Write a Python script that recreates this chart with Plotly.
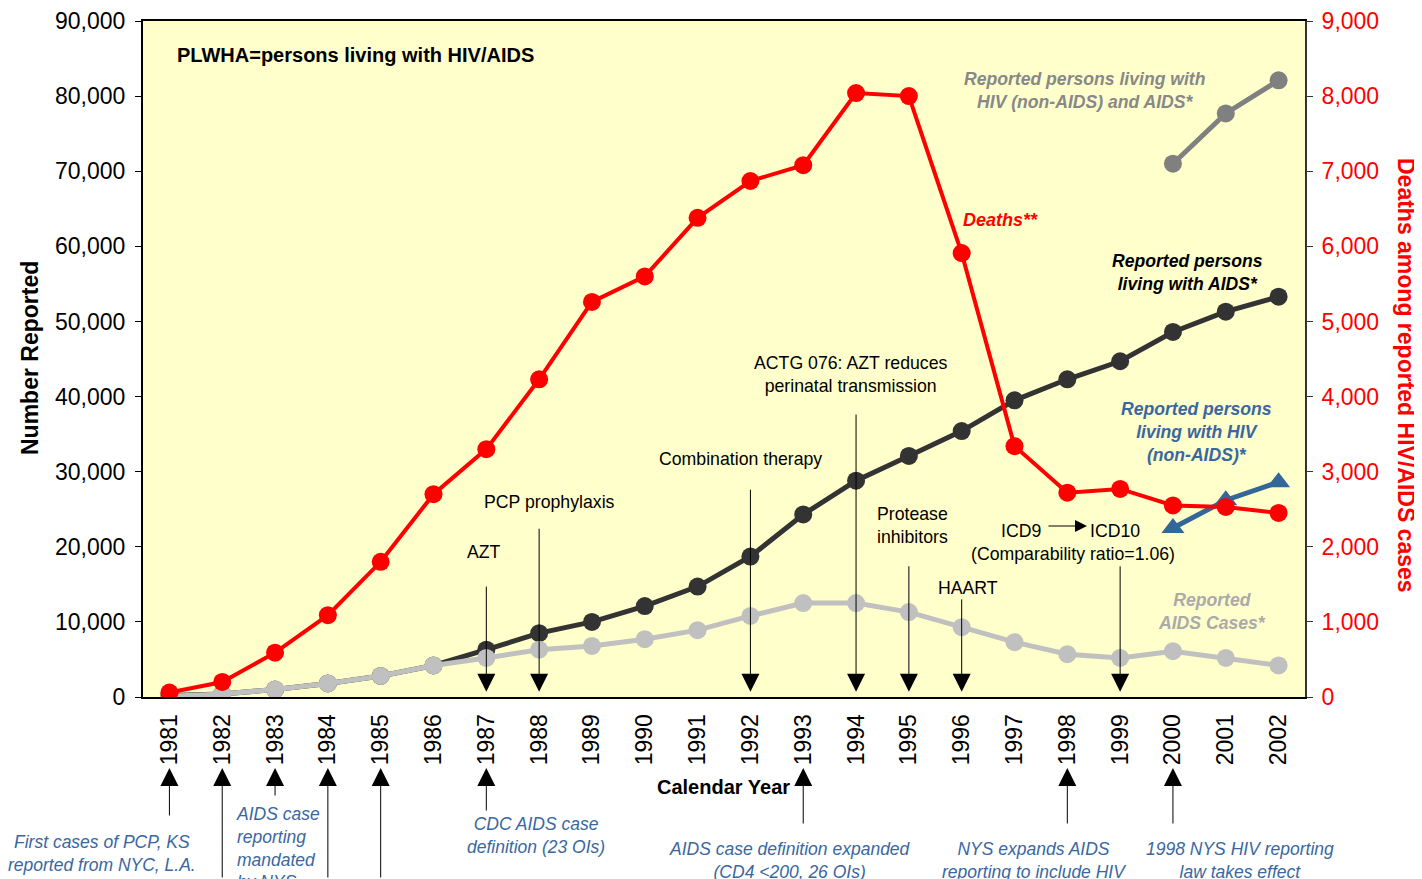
import plotly.graph_objects as go

# ---------------- data ----------------
years = list(range(1981, 2003))
year_labels = [str(y) for y in years]
plwa = [200, 400, 1000, 1800, 2800, 4200, 6300, 8500, 10000, 12100, 14700, 18700,
        24300, 28800, 32100, 35400, 39500, 42300, 44700, 48600, 51300, 53300]
aids_cases = [100, 400, 1000, 1800, 2800, 4200, 5200, 6300, 6800, 7700, 8900, 10800,
              12500, 12500, 11300, 9300, 7300, 5700, 5200, 6100, 5200, 4200]
deaths = [60, 200, 590, 1090, 1800, 2700, 3300, 4230, 5260, 5600, 6380, 6870,
          7080, 8040, 8000, 5910, 3340, 2720, 2770, 2550, 2530, 2450]
hiv_years = [2000, 2001, 2002]
plwha_total = [71000, 77700, 82100]
hiv_nonaids = [22500, 26200, 28600]

# event arrows inside plot (point down to axis)
down_years = [1987, 1988, 1992, 1994, 1995, 1996, 1999]
down_tail = [14900, 22600, 27800, 37800, 17600, 13200, 17600]
# event arrows below axis (point up to year)
up_years = [1981, 1982, 1983, 1984, 1985, 1987, 1993, 1998, 2000]
up_len = [49, 140, 29, 140, 140, 44, 57, 57, 57]

FONT = "Arial, Liberation Sans, sans-serif"
BLUE = "#3A67A0"

# page offset (default body margin) and plot area in screen pixels
OFF = 8
L, R, T, B = 143, 1305, 21, 697
W, H = 1422 - OFF, 879 - OFF


def px(x):
    return (x - L) / (R - L)


def py(y):
    return (B - y) / (B - T)


fig = go.Figure()

fig.add_trace(go.Scatter(x=years, y=plwa, mode="lines+markers",
                         line=dict(color="#333333", width=5),
                         marker=dict(size=18, color="#333333"), yaxis="y"))
fig.add_trace(go.Scatter(x=years, y=aids_cases, mode="lines+markers",
                         line=dict(color="#C0C0C0", width=5),
                         marker=dict(size=18, color="#C0C0C0"), yaxis="y"))
fig.add_trace(go.Scatter(x=hiv_years, y=plwha_total, mode="lines+markers",
                         line=dict(color="#808080", width=5),
                         marker=dict(size=18, color="#808080"), yaxis="y"))
fig.add_trace(go.Scatter(x=hiv_years, y=hiv_nonaids, mode="lines+markers",
                         line=dict(color="#336699", width=5),
                         marker=dict(size=20, color="#336699", symbol="triangle-up"),
                         yaxis="y"))
fig.add_trace(go.Scatter(x=years, y=deaths, mode="lines+markers",
                         line=dict(color="#FF0000", width=4),
                         marker=dict(size=18, color="#FF0000"), yaxis="y2"))

ann = []

# down arrows inside plot
for yr, tail in zip(down_years, down_tail):
    ann.append(dict(x=yr, y=700, xref="x", yref="y", axref="x", ayref="y",
                    ax=yr, ay=tail, text="", showarrow=True, arrowhead=2,
                    arrowsize=3.6, arrowwidth=1, arrowcolor="#000000"))

# up arrows below axis
for yr, ln in zip(up_years, up_len):
    ann.append(dict(x=yr, y=py(768), xref="x", yref="paper",
                    ax=0, ay=ln, text="", showarrow=True, arrowhead=2,
                    arrowsize=3.6, arrowwidth=1, arrowcolor="#000000"))

# ICD9 -> ICD10 arrow
ann.append(dict(x=px(1087), y=py(526), xref="paper", yref="paper",
                ax=-40, ay=0, text="", showarrow=True, arrowhead=2,
                arrowsize=2.4, arrowwidth=1, arrowcolor="#000000"))


def txt(x, y, s, size=17.7, color="#000000", xanchor="center", bold=False,
        italic=False, angle=0):
    if bold:
        s = "<b>" + s.replace("<br>", "</b><br><b>") + "</b>"
    if italic:
        s = "<i>" + s.replace("<br>", "</i><br><i>") + "</i>"
    ann.append(dict(x=px(x), y=py(y), xref="paper", yref="paper", text=s,
                    showarrow=False, xanchor=xanchor, yanchor="middle",
                    textangle=angle, align="center" if xanchor == "center" else "left",
                    font=dict(family=FONT, size=size, color=color)))


txt(175, 55, "PLWHA=persons living with HIV/AIDS", size=20, xanchor="left", bold=True)
txt(1085, 90, "Reported persons living with<br>HIV (non-AIDS) and AIDS*", size=17.6,
    color="#888888", bold=True, italic=True)
txt(1000, 220, "Deaths**", size=18, color="#FF0000", bold=True, italic=True)
txt(1187, 272, "Reported persons<br>living with AIDS*", size=17.6, bold=True, italic=True)
txt(1196, 432, "Reported persons<br>living with HIV<br>(non-AIDS)*", size=17.6, color=BLUE,
    bold=True, italic=True)
txt(1212, 611, "Reported<br>AIDS Cases*", size=17.6, color="#AAAAAA", bold=True,
    italic=True)

txt(851, 374, "ACTG 076: AZT reduces<br>perinatal transmission")
txt(740, 459, "Combination therapy")
txt(549, 502, "PCP prophylaxis")
txt(484, 552, "AZT")
txt(875, 525, "Protease<br>inhibitors", xanchor="left")
txt(968, 588, "HAART")
txt(1021, 531, "ICD9")
txt(1115, 531, "ICD10")
txt(1073, 554, "(Comparability ratio=1.06)")

txt(102, 854, "First cases of PCP, KS<br>reported from NYC, L.A.", size=17.5, color=BLUE,
    italic=True)
txt(234, 848, "AIDS case<br>reporting<br>mandated<br>by NYS", size=17.5, color=BLUE,
    italic=True, xanchor="left")
txt(536, 836, "CDC AIDS case<br>definition (23 OIs)", size=17.5, color=BLUE, italic=True)
txt(489, 886, "First commercial EIA", size=17.5, color=BLUE, italic=True, xanchor="left")
txt(790, 860, "AIDS case definition expanded<br>(CD4 &lt;200, 26 OIs)", size=17.5,
    color=BLUE, italic=True)
txt(1034, 860, "NYS expands AIDS<br>reporting to include HIV", size=17.5, color=BLUE,
    italic=True)
txt(1240, 860, "1998 NYS HIV reporting<br>law takes effect", size=17.5, color=BLUE,
    italic=True)

# axis titles
txt(30, 358, "Number Reported", size=23, bold=True, angle=-90)
txt(723, 787, "Calendar Year", size=20, bold=True)
txt(1406, 375, "Deaths among reported HIV/AIDS cases", size=23, bold=True,
    color="#FF0000", angle=90)

fig.update_layout(
    width=W, height=H, autosize=False,
    margin=dict(l=L - OFF, r=W - (R - OFF), t=T - OFF, b=H - (B - OFF), pad=0,
                autoexpand=False),
    paper_bgcolor="#FFFFFF", plot_bgcolor="#FFFFCC",
    showlegend=False,
    font=dict(family=FONT, color="#000000"),
    annotations=ann,
    xaxis=dict(range=[1980.5, 2002.5], tickmode="array", tickvals=years,
               ticktext=year_labels, tickangle=-90, showgrid=False, zeroline=False,
               automargin=False,
               showline=True, mirror=True, linecolor="#000000", linewidth=2,
               ticks="outside", ticklen=6, tickcolor="rgba(0,0,0,0)",
               tickfont=dict(family=FONT, size=23, color="#000000")),
    yaxis=dict(range=[0, 90000], tickmode="array",
               tickvals=list(range(0, 90001, 10000)), tickformat=",d",
               ticklabelstandoff=5, automargin=False,
               showgrid=False, zeroline=False, showline=True, linecolor="#000000",
               linewidth=2, ticks="outside", ticklen=6, tickcolor="#000000",
               tickfont=dict(family=FONT, size=23, color="#000000")),
    yaxis2=dict(range=[0, 9000], overlaying="y", side="right", tickmode="array",
                tickvals=list(range(0, 9001, 1000)), tickformat=",d",
                ticklabelstandoff=4, automargin=False,
                showgrid=False, zeroline=False, showline=True, linecolor="#333333",
                linewidth=2, ticks="outside", ticklen=6, tickcolor="#333333",
                tickfont=dict(family=FONT, size=23, color="#FF0000")),
)

fig.write_html("out.html")
